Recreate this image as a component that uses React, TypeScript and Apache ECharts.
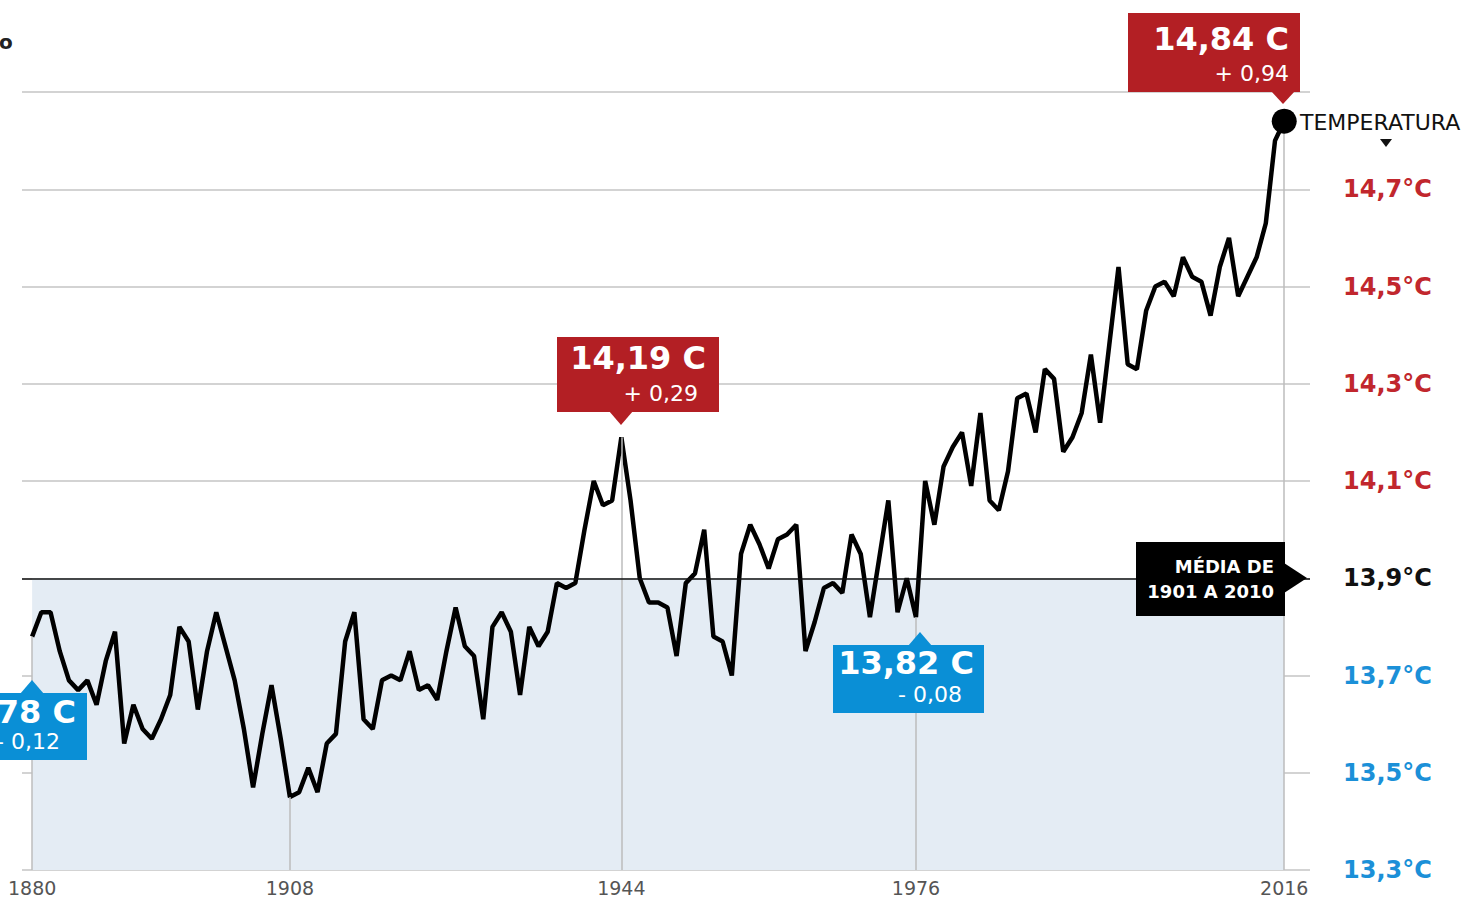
import React, { useEffect, useRef } from "react";
import * as echarts from "echarts";

// ---- data ----
const START_YEAR = 1880;
const TEMPS = [
  13.78, 13.83, 13.83, 13.75, 13.69, 13.67, 13.69, 13.64, 13.73, 13.79, // 1880s
  13.56, 13.64, 13.59, 13.57, 13.61, 13.66, 13.8, 13.77, 13.63, 13.75, // 1890s
  13.83, 13.76, 13.69, 13.59, 13.47, 13.58, 13.68, 13.57, 13.45, 13.46, // 1900s
  13.51, 13.46, 13.56, 13.58, 13.77, 13.83, 13.61, 13.59, 13.69, 13.7, // 1910s
  13.69, 13.75, 13.67, 13.68, 13.65, 13.75, 13.84, 13.76, 13.74, 13.61, // 1920s
  13.8, 13.83, 13.79, 13.66, 13.8, 13.76, 13.79, 13.89, 13.88, 13.89, // 1930s
  14.0, 14.1, 14.05, 14.06, 14.19, 14.06, 13.9, 13.85, 13.85, 13.84, // 1940s
  13.74, 13.89, 13.91, 14.0, 13.78, 13.77, 13.7, 13.95, 14.01, 13.97, // 1950s
  13.92, 13.98, 13.99, 14.01, 13.75, 13.81, 13.88, 13.89, 13.87, 13.99, // 1960s
  13.95, 13.82, 13.94, 14.06, 13.83, 13.9, 13.82, 14.1, 14.01, 14.13, // 1970s
  14.17, 14.2, 14.09, 14.24, 14.06, 14.04, 14.12, 14.27, 14.28, 14.2, // 1980s
  14.33, 14.31, 14.16, 14.19, 14.24, 14.36, 14.22, 14.38, 14.54, 14.34, // 1990s
  14.33, 14.45, 14.5, 14.51, 14.48, 14.56, 14.52, 14.51, 14.44, 14.54, // 2000s
  14.6, 14.48, 14.52, 14.56, 14.63, 14.8, 14.84, // 2010-2016
];
const REFERENCE_MEAN = 13.9; // média de 1901 a 2010
const Y_MIN = 13.3;
const Y_MAX = 14.9;
const Y_STEP = 0.2;
const X_LABEL_YEARS = [1880, 1908, 1944, 1976, 2016];
const DROP_YEARS = [1880, 1908, 1944, 1976, 2016];
const LAST_YEAR = 2016;

const RED = "#b31f24";
const RED_TEXT = "#c1272d";
const BLUE = "#0a8fd6";
const BLUE_TEXT = "#1b90d8";
const FONT = '"DejaVu Sans"';

function fmt(n: number) {
  return n.toFixed(1).replace(".", ",");
}

function box(
  rect: [number, number, number, number],
  fill: string,
  arrow: number[][],
  lines: { text: string; x: number; y: number; font: string }[]
) {
  return [
    { type: "rect", shape: { x: rect[0], y: rect[1], width: rect[2], height: rect[3] }, style: { fill }, z: 50 },
    { type: "polygon", shape: { points: arrow }, style: { fill }, z: 50 },
    ...lines.map((l) => ({
      type: "text",
      x: l.x,
      y: l.y,
      z: 51,
      style: {
        text: l.text,
        fill: "#fff",
        font: l.font,
        textAlign: "right",
        textVerticalAlign: "middle",
        align: "right",
        verticalAlign: "middle",
      },
    })),
  ];
}

export default function App() {
  const ref = useRef<HTMLDivElement>(null);
  useEffect(() => {
    const chart = echarts.init(ref.current!, null, { renderer: "svg" });
    const anomaly = (t: number) => +(t - REFERENCE_MEAN).toFixed(3);
    const years = TEMPS.map((_, i) => START_YEAR + i);
    const lineData = TEMPS.map((t, i) => [years[i], anomaly(t)]);
    const tempOf = (y: number) => TEMPS[y - START_YEAR];
    const yMinA = anomaly(Y_MIN);
    const yMaxA = anomaly(Y_MAX);

    const bigFont = `bold 32px ${FONT}`;
    const smallFont = `22px ${FONT}`;

    const option: any = {
      animation: false,
      grid: { left: 22, right: 161, top: 92, bottom: 30, containLabel: false },
      xAxis: {
        type: "value",
        min: 1878.9,
        max: 2018.8,
        splitLine: { show: false },
        axisLine: { show: false },
        axisTick: { show: false },
        axisLabel: {
          customValues: X_LABEL_YEARS,
          formatter: (v: number) => String(v),
          color: "#555",
          fontFamily: FONT,
          fontSize: 19,
          margin: 8,
        },
      },
      yAxis: {
        type: "value",
        position: "right",
        min: yMinA,
        max: yMaxA,
        interval: Y_STEP,
        axisLine: { show: false },
        axisTick: { show: false },
        splitLine: { show: true, lineStyle: { color: "#c4c4c4", width: 1.5 } },
        axisLabel: {
          align: "left",
          margin: 33,
          fontFamily: FONT,
          fontWeight: "bold",
          fontSize: 24,
          formatter: (v: number) => {
            const t = REFERENCE_MEAN + v;
            if (Math.abs(t - Y_MAX) < 0.01) return "";
            return fmt(t) + "°C";
          },
          color: (v: any) => {
            const n = parseFloat(v);
            if (n > 0.01) return RED_TEXT;
            if (n < -0.01) return BLUE_TEXT;
            return "#111";
          },
        },
      },
      series: [
        {
          type: "line",
          name: "helper",
          z: -1,
          data: lineData,
          symbol: "none",
          silent: true,
          lineStyle: { opacity: 0 },
          markArea: {
            silent: true,
            itemStyle: { color: "#e4ecf4" },
            data: [[{ xAxis: START_YEAR, yAxis: yMinA }, { xAxis: LAST_YEAR, yAxis: 0 }]],
          },
          markLine: {
            silent: true,
            symbol: "none",
            label: { show: false },
            lineStyle: { color: "#bdbdbd", width: 1.5, type: "solid" },
            data: DROP_YEARS.map((y) => [
              { coord: [y, anomaly(tempOf(y))] },
              { coord: [y, yMinA] },
            ]),
          },
        },
        {
          type: "line",
          name: "temperatura",
          z: 3,
          data: lineData,
          symbol: "none",
          lineStyle: { color: "#000", width: 4.5 },
          markLine: {
            silent: true,
            symbol: "none",
            label: { show: false },
            lineStyle: { color: "#111", width: 1.5, type: "solid" },
            data: [{ yAxis: 0 }],
          },
          markPoint: {
            symbol: "circle",
            symbolSize: 25,
            itemStyle: { color: "#000" },
            label: { show: false },
            data: [{ coord: [LAST_YEAR, anomaly(tempOf(LAST_YEAR))] }],
          },
        },
      ],
      graphic: [
        ...box([1128, 13, 172, 79], RED, [[1271, 91], [1295, 91], [1283, 104]], [
          { text: "14,84 C", x: 1289, y: 39, font: bigFont },
          { text: "+ 0,94", x: 1289, y: 73, font: smallFont },
        ]),
        ...box([557, 337, 162, 75], RED, [[609, 411], [633, 411], [621, 425]], [
          { text: "14,19 C", x: 706, y: 358, font: bigFont },
          { text: "+ 0,29", x: 698, y: 393, font: smallFont },
        ]),
        ...box([833, 645, 151, 68], BLUE, [[908, 646], [932, 646], [920, 632]], [
          { text: "13,82 C", x: 974, y: 663, font: bigFont },
          { text: "- 0,08", x: 962, y: 694, font: smallFont },
        ]),
        ...box([-90, 693, 177, 67], BLUE, [[20, 694], [44, 694], [32, 680]], [
          { text: "13,78 C", x: 76, y: 712, font: bigFont },
          { text: "- 0,12", x: 60, y: 741, font: smallFont },
        ]),
        ...box([1136, 542, 149, 74], "#000", [[1284, 563], [1307, 578], [1284, 593]], [
          { text: "MÉDIA DE", x: 1274, y: 566, font: `bold 18px ${FONT}` },
          { text: "1901 A 2010", x: 1274, y: 591, font: `bold 18px ${FONT}` },
        ]),
        {
          type: "text",
          x: 1300,
          y: 122,
          z: 51,
          style: {
            text: "TEMPERATURA",
            fill: "#111",
            font: `22px ${FONT}`,
            textAlign: "left",
            textVerticalAlign: "middle",
            align: "left",
            verticalAlign: "middle",
          },
        },
        {
          type: "polygon",
          shape: { points: [[1380, 139], [1392, 139], [1386, 147]] },
          style: { fill: "#111" },
        },
        {
          type: "text",
          x: -1,
          y: 42,
          style: {
            text: "o",
            fill: "#222",
            font: `bold 20px ${FONT}`,
            textAlign: "left",
            textVerticalAlign: "middle",
            align: "left",
            verticalAlign: "middle",
          },
        },
      ],
    };
    chart.setOption(option);
    return () => chart.dispose();
  }, []);
  return (
    <div
      ref={ref}
      style={{ position: "fixed", left: 0, top: 0, width: 1471, height: 900, background: "#fff" }}
    />
  );
}
